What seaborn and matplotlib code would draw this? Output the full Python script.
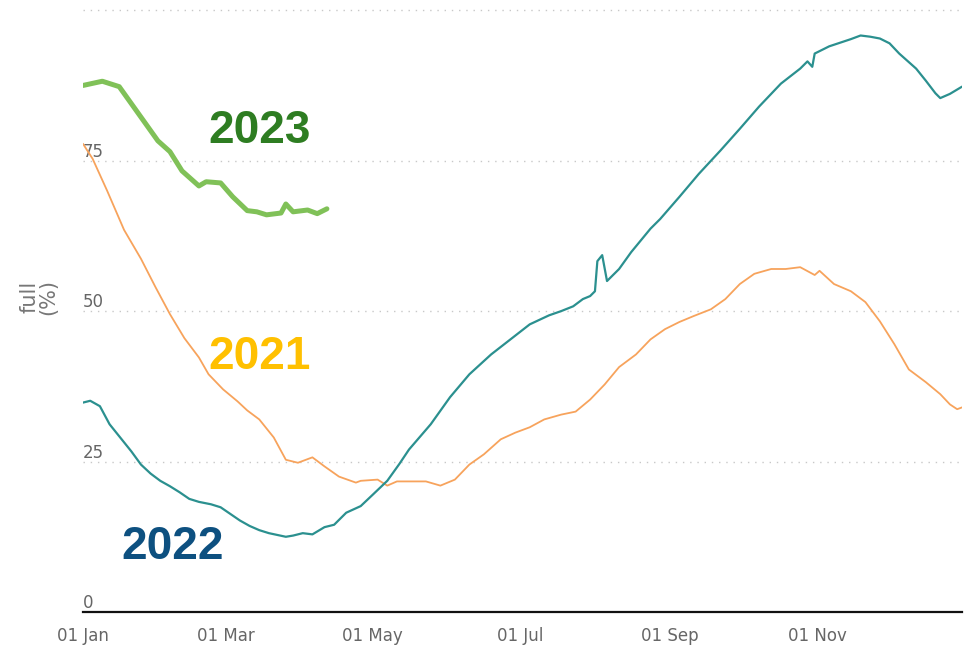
import matplotlib
matplotlib.use("Agg")
import matplotlib.pyplot as plt
import matplotlib.dates as mdates
import seaborn as sns
import pandas as pd
import numpy as np

# ---- data (day of year offset from 1 Jan, % full) ----
days_2021 = [0, 4, 10, 17, 24, 30, 36, 42, 48, 52, 58, 64, 68, 73, 79, 84, 89, 95, 100, 106,
             113, 115, 122, 126, 130, 142, 148, 154, 160, 166, 173, 179, 185, 191, 198, 204,
             210, 216, 222, 229, 235, 241, 247, 253, 260, 266, 272, 278, 285, 291, 297, 303,
             305, 311, 318, 324, 330, 336, 342, 349, 355, 359, 362, 364]
vals_2021 = [77.8, 75.3, 70.0, 63.5, 58.7, 54.0, 49.5, 45.5, 42.3, 39.5, 37.0, 35.0, 33.5, 32.0,
             29.0, 25.3, 24.8, 25.7, 24.2, 22.5, 21.5, 21.8, 22.0, 21.0, 21.7, 21.7, 21.0, 22.0,
             24.5, 26.2, 28.7, 29.8, 30.7, 32.0, 32.8, 33.3, 35.3, 37.8, 40.7, 42.8, 45.3, 47.0,
             48.2, 49.2, 50.3, 52.0, 54.5, 56.2, 57.0, 57.0, 57.3, 56.0, 56.7, 54.5, 53.3, 51.5,
             48.3, 44.5, 40.3, 38.2, 36.2, 34.5, 33.7, 34.0]

days_2022 = [0, 3, 7, 11, 15, 20, 24, 28, 32, 36, 40, 44, 48, 53, 57, 61, 65, 69, 73, 77, 84,
             87, 91, 95, 100, 104, 109, 115, 120, 126, 131, 135, 144, 152, 160, 169, 177, 185,
             193, 198, 203, 207, 210, 212, 213, 215, 217, 222, 227, 235, 239, 247, 255, 264,
             272, 280, 289, 297, 300, 302, 303, 309, 318, 322, 326, 330, 334, 338, 345, 349,
             353, 355, 359, 364]
vals_2022 = [34.8, 35.1, 34.2, 31.2, 29.2, 26.7, 24.5, 23.0, 21.8, 20.9, 19.9, 18.8, 18.3, 17.9,
             17.4, 16.3, 15.2, 14.3, 13.6, 13.1, 12.5, 12.7, 13.1, 12.9, 14.1, 14.5, 16.5, 17.6,
             19.5, 21.8, 24.6, 27.0, 31.2, 35.7, 39.5, 42.8, 45.3, 47.8, 49.3, 50.0, 50.8, 52.0,
             52.5, 53.3, 58.3, 59.3, 55.0, 57.0, 59.8, 63.7, 65.3, 69.0, 72.8, 76.7, 80.3, 84.0,
             87.8, 90.3, 91.5, 90.6, 92.8, 94.0, 95.2, 95.8, 95.6, 95.3, 94.5, 92.8, 90.3, 88.3,
             86.2, 85.4, 86.1, 87.3]

days_2023 = [0, 8, 15, 23, 31, 36, 41, 48, 51, 57, 62, 68, 72, 76, 82, 84, 87, 93, 97, 101]
vals_2023 = [87.5, 88.2, 87.3, 82.8, 78.3, 76.5, 73.3, 70.8, 71.5, 71.3, 69.0, 66.7, 66.5, 66.0,
             66.3, 67.8, 66.5, 66.8, 66.2, 67.0]

y_ticks = [0, 25, 50, 75, 100]
y_tick_labels = ["0", "25", "50", "75", ""]
x_tick_months = [1, 3, 5, 7, 9, 11]

BASE = pd.Timestamp("2021-01-01")


def frame(days, vals):
    return pd.DataFrame({"date": BASE + pd.to_timedelta(days, unit="D"), "value": vals})


df21 = frame(days_2021, vals_2021)
df22 = frame(days_2022, vals_2022)
df23 = frame(days_2023, vals_2023)

sns.set_style("white")
plt.rcParams["font.family"] = ["DejaVu Sans"]

fig = plt.figure(figsize=(9.7, 6.48), dpi=100)
ax = fig.add_axes([83 / 970, 36 / 648, (962 - 83) / 970, 612 / 648])

sns.lineplot(data=df21, x="date", y="value", ax=ax, color="#f7a35c", linewidth=1.3)
sns.lineplot(data=df22, x="date", y="value", ax=ax, color="#2b908f", linewidth=1.6)
sns.lineplot(data=df23, x="date", y="value", ax=ax, color="#80c158", linewidth=3.6,
             solid_capstyle="round")

ax.set_xlim(BASE, BASE + pd.Timedelta(days=364))
ax.set_ylim(0, 101.7)

# gridlines
for v in y_ticks[1:]:
    ax.axhline(v, color="#c8c8c8", linewidth=1.0, linestyle=(0, (1, 4.2)), zorder=0)

ax.set_yticks(y_ticks)
ax.set_yticklabels(y_tick_labels)
ax.tick_params(axis="y", length=0, pad=0, labelsize=12, labelcolor="#666666")
for lab in ax.get_yticklabels():
    lab.set_horizontalalignment("left")
    lab.set_verticalalignment("bottom")

xticks = [pd.Timestamp(2021, m, 1) for m in x_tick_months]
ax.set_xticks(xticks)
ax.xaxis.set_major_formatter(mdates.DateFormatter("%d %b"))
ax.tick_params(axis="x", length=7, width=1, color="#ccd6eb", pad=4,
               labelsize=12, labelcolor="#666666")

for s in ["top", "right", "left"]:
    ax.spines[s].set_visible(False)
ax.spines["bottom"].set_color("#111111")
ax.spines["bottom"].set_linewidth(1.6)

ax.set_xlabel("")
ax.set_ylabel("full\n(%)", color="#777777", fontsize=15, linespacing=0.95)
ax.yaxis.set_label_coords(-0.028, 0.515)

label_font = ["Liberation Sans Narrow", "Liberation Sans", "DejaVu Sans"]
ax.text(BASE + pd.Timedelta(days=73), 79.9, "2023", color="#2e7d22", fontsize=33,
        fontweight="bold", ha="center", va="center", family=label_font)
ax.text(BASE + pd.Timedelta(days=73), 42.4, "2021", color="#ffc000", fontsize=33,
        fontweight="bold", ha="center", va="center", family=label_font)
ax.text(BASE + pd.Timedelta(days=37), 10.8, "2022", color="#0d5080", fontsize=33,
        fontweight="bold", ha="center", va="center", family=label_font)

fig.savefig("out.png", dpi=100)
